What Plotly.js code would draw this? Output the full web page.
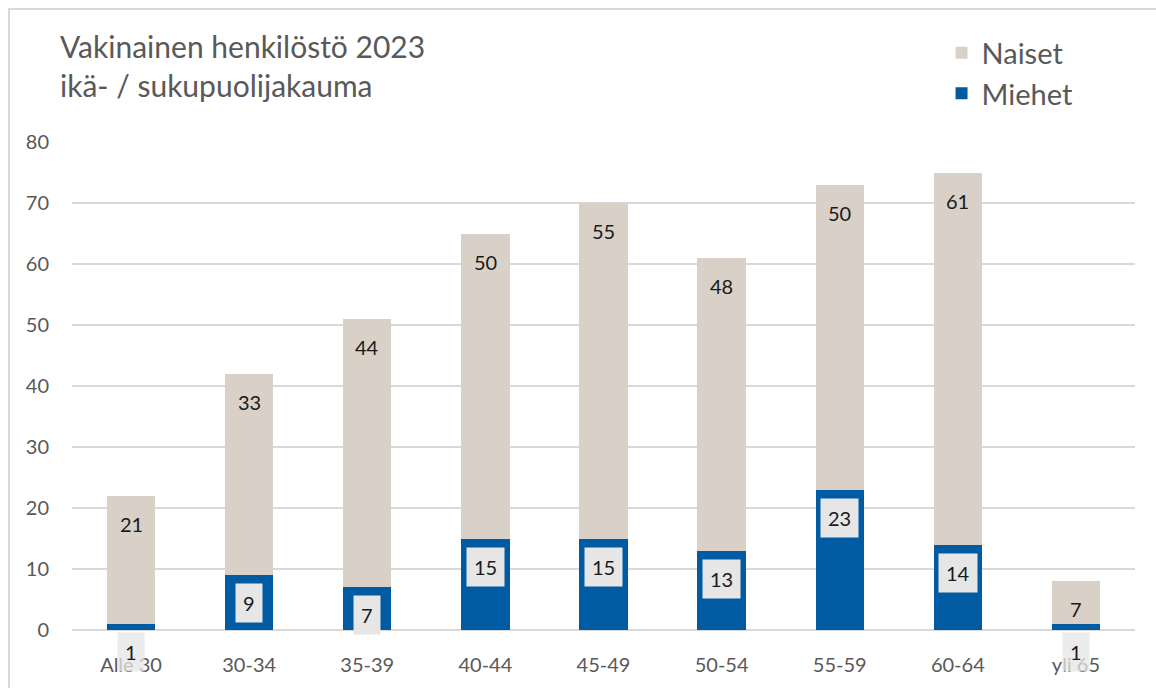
<!DOCTYPE html>
<html>
<head>
<meta charset="utf-8">
<script src="https://cdn.plot.ly/plotly-3.0.1.min.js"></script>
<style>
  html, body { margin: 0; padding: 0; background: #ffffff; }
  #wrap { position: relative; width: 1156px; height: 688px; }
  #chart { width: 1156px; height: 688px; }
  #frame { position: absolute; left: 8px; top: 8px; right: 0; bottom: 0;
           border-top: 2px solid #d9d9d9; border-left: 2px solid #d9d9d9;
           pointer-events: none; }
</style>
</head>
<body>
<div id="wrap">
  <div id="chart"></div>
  <div id="frame"></div>
</div>
<script>
const categories = ['Alle 30', '30-34', '35-39', '40-44', '45-49', '50-54', '55-59', '60-64', 'yli 65'];
const naiset = [21, 33, 44, 50, 55, 48, 50, 61, 7];
const miehet = [1, 9, 7, 15, 15, 13, 23, 14, 1];
const yTicks = [0, 10, 20, 30, 40, 50, 60, 70, 80];

const FONT = 'Lato, "Open Sans", sans-serif';
const GRAY = '#595959';

const traces = [
  {
    type: 'bar', name: 'Miehet', x: categories, y: miehet,
    marker: { color: '#005ba3' }, width: 0.41, hoverinfo: 'x+y+name'
  },
  {
    type: 'bar', name: 'Naiset', x: categories, y: naiset,
    marker: { color: '#d9d1c8' }, width: 0.41, hoverinfo: 'x+y+name'
  }
];

const annotations = [];
categories.forEach((c, i) => {
  annotations.push({
    x: c, y: miehet[i] + naiset[i], xref: 'x', yref: 'y',
    text: String(naiset[i]), showarrow: false, yanchor: 'middle', yshift: -28,
    font: { family: FONT, size: 20, color: '#1a1a1a' }
  });
  annotations.push({
    x: c, y: miehet[i], xref: 'x', yref: 'y',
    text: String(miehet[i]), showarrow: false, yanchor: 'middle', yshift: -28,
    bgcolor: i === 0 || i === categories.length - 1 ? 'rgba(230,230,230,0.75)' : '#e6e6e6',
    borderpad: 7,
    font: { family: FONT, size: 20, color: '#1a1a1a' }
  });
});

const layout = {
  width: 1156, height: 688,
  margin: { l: 72, r: 21, t: 142, b: 58 },
  paper_bgcolor: '#ffffff', plot_bgcolor: '#ffffff',
  barmode: 'stack',
  font: { family: FONT, color: GRAY },
  title: {
    text: 'Vakinainen henkilöstö 2023<br>ikä- / sukupuolijakauma',
    xref: 'container', yref: 'container',
    x: 60 / 1156, xanchor: 'left', y: 1 - 58 / 688, yanchor: 'top',
    font: { family: FONT, size: 30, color: GRAY }
  },
  showlegend: true,
  legend: {
    x: 0.818, xanchor: 'left', y: 1.235, yanchor: 'top',
    traceorder: 'reversed',
    font: { family: FONT, size: 29, color: GRAY },
    bgcolor: 'rgba(0,0,0,0)', itemwidth: 30, tracegroupgap: 0
  },
  xaxis: {
    type: 'category', tickfont: { family: FONT, size: 20, color: GRAY },
    showgrid: false, showline: false, zeroline: false, ticks: '',
    ticklabelstandoff: 21
  },
  yaxis: {
    range: [0, 80], tickvals: yTicks, ticktext: yTicks.map(String),
    tickfont: { family: FONT, size: 20, color: GRAY },
    showgrid: true, gridcolor: '#d9d9d9', gridwidth: 1.7,
    zeroline: true, zerolinecolor: '#d9d9d9', zerolinewidth: 1.7,
    showline: false, ticks: '', ticklabelstandoff: 22
  },
  annotations: annotations
};

Plotly.newPlot('chart', traces, layout, { displayModeBar: false, staticPlot: true });
</script>
</body>
</html>
